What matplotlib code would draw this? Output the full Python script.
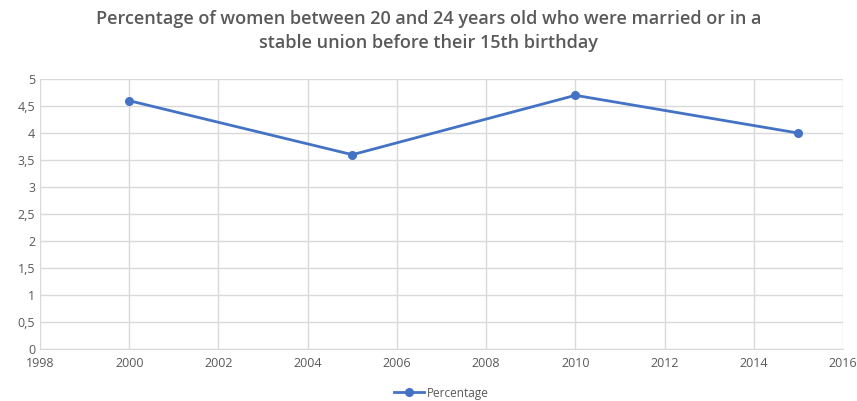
import matplotlib.pyplot as plt
from matplotlib.ticker import FuncFormatter

# 数据
years = [2000, 2005, 2010, 2015]
percentage = [4.6, 3.6, 4.7, 4.0]

plt.rcParams['font.family'] = ['Open Sans', 'DejaVu Sans']
gray = '#595959'

fig = plt.figure(figsize=(8.57, 4.01), dpi=100)
ax = fig.add_axes([0.0467, 0.1297, 0.937, 0.673])

ax.plot(years, percentage, color='#4472C4', linewidth=2, marker='o', markersize=5.5, label='Percentage')

ax.set_xlim(1998, 2016)
ax.set_ylim(0, 5)
ax.set_xticks(range(1998, 2017, 2))
ax.set_yticks([i * 0.5 for i in range(11)])
ax.yaxis.set_major_formatter(FuncFormatter(lambda v, p: ('%g' % v).replace('.', ',')))

ax.grid(True, color='#D9D9D9', linewidth=1)
ax.set_axisbelow(True)
for s in ax.spines.values():
    s.set_visible(False)
ax.spines['bottom'].set_visible(True)
ax.spines['bottom'].set_color('#D9D9D9')
ax.tick_params(length=0, colors=gray, labelsize=9)
ax.tick_params(axis='x', pad=6)

fig.suptitle('Percentage of women between 20 and 24 years old who were married or in a\nstable union before their 15th birthday',
             y=0.975, fontsize=13, color=gray, fontweight='semibold', linespacing=1.4)

ax.legend(loc='upper center', bbox_to_anchor=(0.5, -0.1), frameon=False, fontsize=8.5,
          labelcolor=gray, handlelength=2.5, handletextpad=0.3)

fig.savefig('out.png', dpi=100)
